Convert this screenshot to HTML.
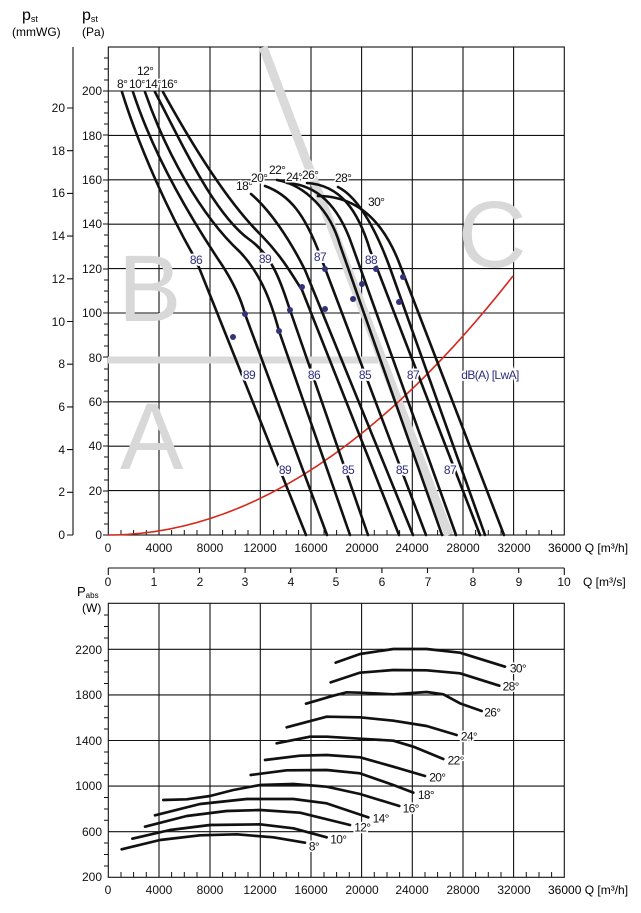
<!DOCTYPE html>
<html><head><meta charset="utf-8"><style>
html,body{margin:0;padding:0;background:#fff}
svg{display:block;font-family:"Liberation Sans",Arial,sans-serif}
</style></head><body>
<svg width="641" height="913" viewBox="0 0 641 913" xmlns="http://www.w3.org/2000/svg">
<text x="22" y="20" font-size="16">p<tspan font-size="9" dy="2">st</tspan></text>
<text x="12" y="36" font-size="12">(mmWG)</text>
<text x="82" y="20" font-size="16">p<tspan font-size="9" dy="2">st</tspan></text>
<text x="82" y="36" font-size="12">(Pa)</text>

<g stroke="#111" stroke-width="1.1" fill="none">
<rect x="108.3" y="47" width="456" height="488"/>
<path d="M159,47V535M210,47V535M260.3,47V535M311,47V535M361.6,47V535M412.3,47V535M463,47V535M513.6,47V535"/>
<path d="M108,91H564M108,135.4H564M108,179.8H564M108,224.2H564M108,268.6H564M108,313H564M108,357.4H564M108,401.8H564M108,446.2H564M108,490.6H564"/>
<path d="M73,47V535"/>
<path d="M67,108H73M67,150.7H73M67,193.4H73M67,236.1H73M67,278.8H73M67,321.5H73M67,364.2H73M67,406.9H73M67,449.6H73M67,492.3H73M67,535H73"/>
</g>
<g stroke="#111" stroke-width="1">
<path d="M103,535H108M104,524H108M104,513H108M104,502H108M103,491H108M104,480H108M104,469H108M104,457H108M103,446H108M104,435H108M104,424H108M104,413H108M103,402H108M104,391H108M104,380H108M104,369H108M103,357H108M104,346H108M104,335H108M104,324H108M103,313H108M104,302H108M104,291H108M104,280H108M103,269H108M104,257H108M104,246H108M104,235H108M103,224H108M104,213H108M104,202H108M104,191H108M103,180H108M104,169H108M104,157H108M104,146H108M103,135H108M104,124H108M104,113H108M104,102H108M103,91H108M104,80H108M104,69H108M104,58H108"/>
<path d="M121,535V530M133.6,535V530M146.3,535V530M171.6,535V530M184.3,535V530M197,535V530M222.6,535V530M235.3,535V530M248,535V530M273.6,535V530M286.3,535V530M298.6,535V530M324,535V530M336.6,535V530M349.3,535V530M374.3,535V530M387,535V530M399.6,535V530M425,535V530M437.6,535V530M450.3,535V530M475.6,535V530M488.3,535V530M501,535V530M526.3,535V530M539,535V530M551.6,535V530"/>
</g>
<g font-size="12" text-anchor="end" fill="#111">
<text x="65" y="112">20</text><text x="65" y="155">18</text><text x="65" y="197">16</text><text x="65" y="240">14</text><text x="65" y="283">12</text><text x="65" y="326">10</text><text x="65" y="368">8</text><text x="65" y="411">6</text><text x="65" y="454">4</text><text x="65" y="496">2</text><text x="65" y="539">0</text>
<text x="102" y="95">200</text><text x="102" y="140">180</text><text x="102" y="184">160</text><text x="102" y="228">140</text><text x="102" y="273">120</text><text x="102" y="317">100</text><text x="102" y="362">80</text><text x="102" y="406">60</text><text x="102" y="450">40</text><text x="102" y="495">20</text><text x="102" y="539">0</text>
</g>
<g font-size="12" text-anchor="middle" fill="#111">
<text x="108" y="552">0</text><text x="159" y="552">4000</text><text x="210" y="552">8000</text><text x="260" y="552">12000</text><text x="311" y="552">16000</text><text x="362" y="552">20000</text><text x="412" y="552">24000</text><text x="463" y="552">28000</text><text x="514" y="552">32000</text>
</g>
<text x="548" y="552" font-size="12">36000 Q [m³/h]</text>

<g fill="#d8d8d8" font-size="95">
<text x="118" y="321">B</text><text x="458" y="267">C</text><text x="120" y="469">A</text>
</g>
<g stroke="#dadada" fill="none">
<path d="M263,47L449,535" stroke-width="9"/>
<path d="M108,360H378" stroke-width="7"/>
</g>
<path d="M108,535Q310.5,535 513,276" stroke="#d42a1e" stroke-width="1.6" fill="none"/>

<g stroke="#111" stroke-width="2.6" fill="none" stroke-linejoin="round" stroke-linecap="round">
<path d="M122,92C140,150 170,215 196,260L306,535"/>
<path d="M133,92C152,150 185,210 222,265C235,285 242,303 245,314L327,535"/>
<path d="M145,92C165,150 200,215 240,252C262,275 272,305 279,331L350,535"/>
<path d="M155,92C185,150 215,215 250,240C275,258 283,290 290,310L368,535"/>
<path d="M163,92C195,150 230,205 262,236C285,260 295,280 302,290L399,535"/>
<path d="M251,194C270,210 290,240 305,270L413,535"/>
<path d="M265,186C290,195 305,215 320,255L426,535"/>
<path d="M277,180C305,185 330,210 340,245L442,535"/>
<path d="M287,183C320,185 340,210 352,245L456,535"/>
<path d="M307,183C340,185 358,210 370,250L480,535"/>
<path d="M338,187C360,198 378,235 390,268L485,535"/>
<path d="M318,196C360,196 385,225 400,265L504,535"/>
</g>
<g fill="#33337a">
<circle cx="233" cy="337" r="3"/><circle cx="245" cy="314" r="3"/><circle cx="279" cy="331" r="3"/><circle cx="290" cy="310" r="3"/><circle cx="302" cy="287" r="3"/><circle cx="325" cy="269" r="3"/><circle cx="325" cy="309" r="3"/><circle cx="353" cy="299" r="3"/><circle cx="362" cy="284" r="3"/><circle cx="376" cy="269" r="3"/><circle cx="399" cy="302" r="3"/><circle cx="403" cy="277" r="3"/>
</g>
<g font-size="12" fill="#111" stroke="#fff" stroke-width="3" paint-order="stroke" letter-spacing="-0.6">
<text x="137" y="75">12°</text>
<text x="117" y="88">8°</text><text x="129" y="88">10°</text><text x="145" y="88">14°</text><text x="161" y="88">16°</text>
<text x="236" y="190">18°</text><text x="251" y="182">20°</text><text x="269" y="174">22°</text><text x="286" y="181">24°</text><text x="302" y="179">26°</text><text x="335" y="182">28°</text><text x="368" y="206">30°</text>
</g>
<g font-size="12" fill="#2e2e80" stroke="#fff" stroke-width="4" paint-order="stroke" text-anchor="middle" letter-spacing="-0.6">
<text x="196" y="264">86</text><text x="265" y="263">89</text><text x="320" y="261">87</text><text x="371" y="264">88</text>
<text x="249" y="379">89</text><text x="314" y="379">86</text><text x="365" y="379">85</text><text x="413" y="379">87</text>
<text x="285" y="474">89</text><text x="348" y="474">85</text><text x="402" y="474">85</text><text x="450" y="474">87</text>
<text x="490" y="379">dB(A) [LwA]</text>
</g>

<g stroke="#111" stroke-width="1.1">
<path d="M108.3,568H564.3"/>
<path d="M108.3,568V575M153.9,568V573M199.5,568V573M245.1,568V573M290.7,568V573M336.3,568V573M381.9,568V573M427.5,568V573M473.1,568V573M518.7,568V573M564.3,568V575"/>
</g>
<g font-size="12" text-anchor="middle" fill="#111">
<text x="108" y="586">0</text><text x="154" y="586">1</text><text x="200" y="586">2</text><text x="245" y="586">3</text><text x="291" y="586">4</text><text x="336" y="586">5</text><text x="382" y="586">6</text><text x="428" y="586">7</text><text x="473" y="586">8</text><text x="519" y="586">9</text><text x="564" y="586">10</text>
</g>
<text x="583" y="586" font-size="12">Q [m³/s]</text>

<text x="77" y="596" font-size="13">P<tspan font-size="8" dy="2">abs</tspan></text>
<text x="82" y="612" font-size="12">(W)</text>
<g stroke="#111" stroke-width="1.1" fill="none">
<rect x="108.3" y="603.3" width="456" height="274"/>
<path d="M159,603V877M210,603V877M260.3,603V877M311,603V877M361.6,603V877M412.3,603V877M463,603V877M513.6,603V877"/>
<path d="M108,649.3H564M108,694.9H564M108,740.5H564M108,786.1H564M108,831.7H564"/>
</g>
<g stroke="#111" stroke-width="1">
<path d="M104,615H108M104,626.5H108M104,638H108M104,660.7H108M104,672H108M104,683.5H108M104,706.3H108M104,717.7H108M104,729H108M104,752H108M104,763.3H108M104,774.7H108M104,797.5H108M104,809H108M104,820.3H108M104,843H108M104,854.5H108M104,866H108"/>
<path d="M121,877V872M133.6,877V872M146.3,877V872M171.6,877V872M184.3,877V872M197,877V872M222.6,877V872M235.3,877V872M248,877V872M273.6,877V872M286.3,877V872M298.6,877V872M324,877V872M336.6,877V872M349.3,877V872M374.3,877V872M387,877V872M399.6,877V872M425,877V872M437.6,877V872M450.3,877V872M475.6,877V872M488.3,877V872M501,877V872M526.3,877V872M539,877V872M551.6,877V872"/>
</g>
<g font-size="12" text-anchor="end" fill="#111">
<text x="102" y="654">2200</text><text x="102" y="699">1800</text><text x="102" y="745">1400</text><text x="102" y="790">1000</text><text x="102" y="836">600</text><text x="102" y="881">200</text>
</g>
<g font-size="12" text-anchor="middle" fill="#111">
<text x="108" y="894">0</text><text x="159" y="894">4000</text><text x="210" y="894">8000</text><text x="260" y="894">12000</text><text x="311" y="894">16000</text><text x="362" y="894">20000</text><text x="412" y="894">24000</text><text x="463" y="894">28000</text><text x="514" y="894">32000</text>
</g>
<text x="548" y="894" font-size="12">36000 Q [m³/h]</text>

<g transform="translate(60,600) scale(0.33333)">
<g stroke="#111" stroke-width="8" fill="none" stroke-linejoin="round" stroke-linecap="round">
<polyline points="185,748 300,720 420,706 530,703 640,712 735,728"/>
<polyline points="217,716 330,690 450,675 600,673 700,685 800,712"/>
<polyline points="255,680 380,648 500,633 600,630 720,638 870,675"/>
<polyline points="285,646 420,612 560,597 700,597 800,610 925,652"/>
<polyline points="310,600 380,598 450,588 520,570 600,555 700,552 800,560 900,582 1018,618"/>
<polyline points="572,525 680,511 800,510 900,520 1000,555 1060,578"/>
<polyline points="615,480 720,467 800,465 900,472 1000,500 1095,528"/>
<polyline points="650,430 750,410 800,410 900,416 1000,422 1060,440 1150,477"/>
<polyline points="680,382 800,350 900,352 1000,362 1100,378 1190,405"/>
<polyline points="738,311 820,287 860,277 900,278 1000,283 1100,276 1150,283 1200,310 1265,333"/>
<polyline points="812,247 900,218 1000,210 1100,211 1200,220 1318,257"/>
<polyline points="827,188 900,162 1000,147 1100,147 1200,158 1335,200"/>
</g>
<g font-size="36" fill="#111" stroke="#fff" stroke-width="10" paint-order="stroke" text-anchor="middle" letter-spacing="-2">
<text x="762" y="752">8°</text><text x="835" y="730">10°</text><text x="907" y="695">12°</text><text x="962" y="667">14°</text><text x="1052" y="637">16°</text><text x="1098" y="597">18°</text><text x="1132" y="545">20°</text><text x="1187" y="494">22°</text><text x="1227" y="422">24°</text><text x="1297" y="349">26°</text><text x="1352" y="272">28°</text><text x="1374" y="217">30°</text>
</g>
</g>
</svg>
</body></html>
